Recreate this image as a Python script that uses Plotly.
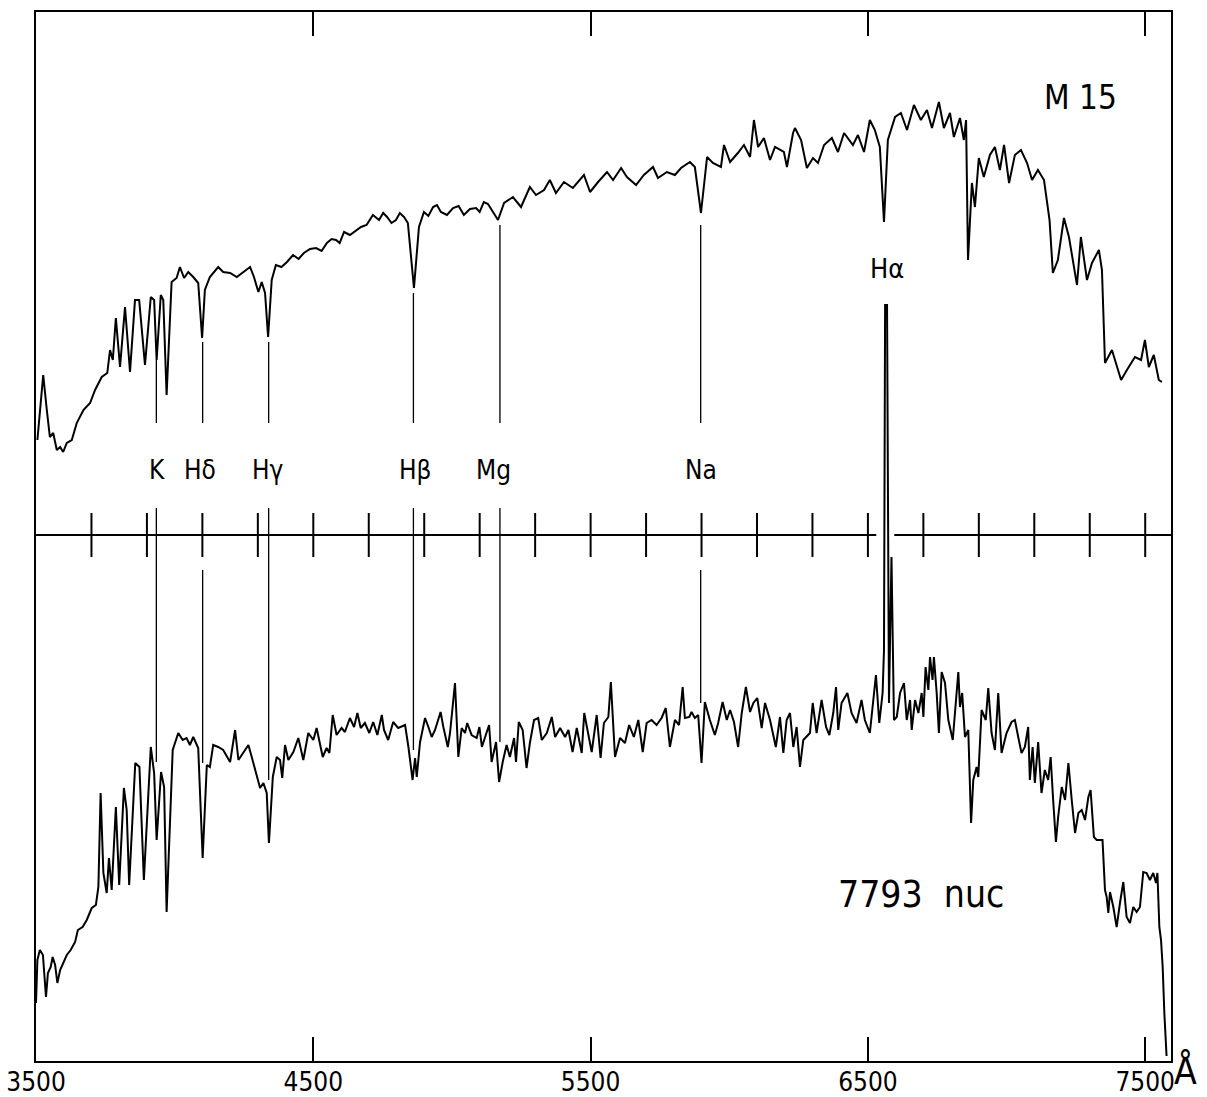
import plotly.graph_objects as go

# ---------------- data (wavelength in Angstrom, relative flux in arbitrary units) -------------
m15 = [(3505,621),(3515,650),(3526,686),(3539,651),(3550,624),(3562,628),(3575,611),(3587,614),
       (3598,609),(3611,618),(3629,621),(3647,638),(3671,651),(3695,658),(3713,671),(3737,684),
       (3757,688),(3767,711),(3777,701),(3788,743),(3803,694),(3821,754),(3839,689),(3857,761),
       (3872,761),(3893,696),(3914,764),(3926,761),(3935,701),(3950,766),(3959,761),(3971,666),
       (3989,779),(4007,783),(4019,794),(4034,783),(4049,789),(4067,784),(4085,778),(4099,723),
       (4109,771),(4127,784),(4157,794),(4175,789),(4200,788),(4224,784),(4248,789),(4272,794),
       (4286,784),(4302,769),(4314,779),(4326,768),(4337,724),(4350,781),(4365,796),(4385,794),
       (4405,799),(4427,806),(4447,802),(4466,808),(4488,812),(4510,813),(4530,810),(4549,818),
       (4566,822),(4582,821),(4595,818),(4611,829),(4632,826),(4650,830),(4672,834),(4692,836),
       (4715,846),(4737,841),(4752,848),(4766,844),(4782,838),(4798,841),(4812,848),(4827,844),
       (4841,838),(4863,773),(4881,834),(4899,849),(4915,845),(4932,854),(4946,856),(4960,849),
       (4982,846),(5004,853),(5024,855),(5043,846),(5065,852),(5087,853),(5100,849),(5115,859),
       (5130,857),(5148,849),(5166,841),(5188,858),(5220,864),(5249,854),(5281,874),(5303,866),
       (5332,871),(5353,881),(5375,868),(5404,879),(5436,873),(5476,886),(5498,869),(5527,879),
       (5559,889),(5581,881),(5610,893),(5631,884),(5664,876),(5692,886),(5725,894),(5743,883),
       (5775,889),(5804,886),(5826,893),(5858,899),(5876,894),(5898,848),(5920,904),(5941,898),
       (5970,894),(5981,916),(6003,899),(6031,908),(6053,916),(6075,904),(6089,941),(6104,914),
       (6125,923),(6147,901),(6165,914),(6197,909),(6208,894),(6230,928),(6237,933),(6259,921),
       (6280,893),(6302,903),(6320,898),(6342,916),(6370,923),(6392,909),(6414,928),(6446,916),
       (6464,926),(6486,909),(6507,941),(6525,931),(6543,914),(6558,839),(6572,921),(6598,944),
       (6619,948),(6641,931),(6666,956),(6691,941),(6713,951),(6731,933),(6756,959),(6774,933),
       (6796,948),(6810,924),(6832,943),(6846,921),(6854,941),(6861,801),(6875,878),(6886,854),
       (6900,903),(6918,884),(6940,906),(6958,914),(6976,891),(6991,916),(7009,878),(7030,906),
       (7052,911),(7074,898),(7092,881),(7113,891),(7135,881),(7155,841),(7167,788),(7185,801),
       (7207,843),(7225,824),(7254,776),(7268,824),(7290,781),(7308,798),(7333,811),(7344,791),
       (7355,698),(7380,711),(7413,681),(7434,691),(7463,704),(7485,701),(7499,721),(7513,694),
       (7531,706),(7549,681),(7560,679)]

nuc = [(3500,58),(3505,101),(3514,111),(3525,106),(3536,64),(3543,88),(3553,94),(3560,104),
       (3569,96),(3577,78),(3587,91),(3597,98),(3611,106),(3625,111),(3641,119),(3651,131),
       (3668,134),(3683,141),(3701,153),(3716,156),(3725,174),(3733,268),(3743,188),(3755,168),
       (3763,203),(3773,171),(3788,254),(3800,176),(3817,273),(3827,251),(3836,176),(3858,298),
       (3873,294),(3889,181),(3914,314),(3926,288),(3935,221),(3951,289),(3962,274),(3971,149),
       (3993,311),(4013,328),(4029,321),(4043,323),(4055,316),(4067,324),(4085,313),(4101,203),
       (4116,296),(4127,294),(4139,316),(4157,314),(4175,311),(4200,299),(4218,331),(4230,301),
       (4248,308),(4266,316),(4278,304),(4293,289),(4308,273),(4320,278),(4332,268),(4340,218),
       (4354,284),(4368,304),(4380,301),(4388,283),(4398,316),(4410,301),(4428,309),(4446,323),
       (4464,301),(4482,328),(4500,321),(4512,333),(4534,304),(4548,313),(4558,308),(4570,346),
       (4584,326),(4602,333),(4614,329),(4632,343),(4647,334),(4659,348),(4671,333),(4686,338),
       (4702,328),(4716,339),(4731,326),(4747,346),(4755,331),(4770,321),(4788,339),(4806,333),
       (4831,336),(4843,314),(4858,281),(4867,303),(4873,284),(4885,319),(4903,343),(4915,334),
       (4927,324),(4939,331),(4959,349),(4969,334),(4985,314),(4993,328),(5011,378),(5023,304),
       (5035,333),(5047,328),(5055,338),(5071,326),(5089,323),(5099,334),(5108,314),(5122,326),
       (5134,336),(5143,299),(5159,319),(5170,279),(5183,299),(5197,316),(5209,304),(5224,323),
       (5231,299),(5241,339),(5255,331),(5269,293),(5281,318),(5296,341),(5311,343),(5324,321),
       (5342,328),(5360,344),(5372,324),(5390,333),(5408,324),(5420,331),(5435,309),(5450,333),
       (5468,308),(5477,348),(5492,324),(5504,309),(5522,346),(5536,303),(5548,338),(5564,344),
       (5573,379),(5588,304),(5606,323),(5624,318),(5639,336),(5656,324),(5672,341),(5688,309),
       (5702,338),(5720,341),(5738,336),(5756,343),(5771,353),(5786,314),(5804,341),(5819,336),
       (5832,374),(5840,343),(5856,344),(5864,349),(5876,343),(5888,346),(5900,298),(5912,359),
       (5930,341),(5948,326),(5960,338),(5976,359),(5991,341),(6003,351),(6017,339),(6032,314),
       (6045,348),(6060,374),(6075,349),(6087,358),(6101,363),(6117,333),(6129,358),(6147,341),
       (6168,314),(6183,344),(6195,308),(6207,341),(6219,348),(6231,314),(6243,334),(6255,294),
       (6267,321),(6279,324),(6291,328),(6301,358),(6315,328),(6333,361),(6349,334),(6361,326),
       (6375,348),(6385,374),(6393,331),(6405,358),(6426,368),(6441,348),(6459,338),(6477,361),
       (6489,341),(6507,328),(6529,386),(6541,338),(6553,368),(6558,411),(6562,756),(6569,756),
       (6576,358),(6585,504),(6594,341),(6604,344),(6616,368),(6630,378),(6640,341),(6652,361),
       (6658,331),(6670,361),(6682,348),(6694,368),(6700,344),(6708,394),(6718,371),(6724,404),
       (6733,381),(6738,404),(6748,368),(6756,328),(6766,389),(6778,378),(6790,341),(6806,321),
       (6816,354),(6826,389),(6832,354),(6840,368),(6850,324),(6862,331),(6872,238),(6880,281),
       (6892,294),(6898,284),(6910,351),(6925,341),(6934,373),(6946,328),(6958,311),(6970,368),
       (6982,308),(7000,328),(7018,339),(7030,341),(7042,324),(7054,308),(7066,314),(7078,334),
       (7084,281),(7094,314),(7102,278),(7114,319),(7126,268),(7138,291),(7150,281),(7159,304),
       (7168,261),(7178,219),(7186,244),(7199,274),(7211,261),(7223,298),(7235,261),(7247,228),
       (7259,248),(7271,251),(7283,241),(7295,264),(7303,271),(7309,241),(7315,224),(7325,221),
       (7337,221),(7346,221),(7355,171),(7361,164),(7367,148),(7373,169),(7385,154),(7397,134),
       (7409,158),(7421,179),(7433,144),(7445,138),(7457,154),(7469,149),(7481,154),(7493,189),
       (7505,188),(7517,181),(7529,188),(7539,178),(7544,188),(7551,134),(7557,121),(7563,94),
       (7569,48),(7577,5)]

line_names = ["K", "Hδ", "Hγ", "Hβ", "Mg", "Na"]
line_wl = [3934, 4101, 4339, 4861, 5173, 5897]
upper_seg_top = [701, 719, 719, 768, 836, 836]
upper_seg_bot = [638, 638, 638, 638, 638, 638]
lower_seg_top = [553, 491, 553, 553, 553, 491]
lower_seg_bot = [299, 298, 281, 311, 319, 358]
label_wl = [3937, 4090, 4336, 4867, 5151, 5898]
label_flux = 591

halpha_label = ("Hα", 6569, 793)
m15_label = ("M 15", 7268, 964)
nuc_label = ("7793  nuc", 6691, 167)

mid_axis_flux = 526
mid_tick_half = 22
mid_tick_wl = list(range(3700, 7501, 200))
mid_gap = (6530, 6595)
x_ticks = [3500, 4500, 5500, 6500, 7500]
x_range = [3500, 7593]
y_range = [0, 1049]

# ---------------- figure -------------------------------------------------------------------------
FONT = "DejaVu Sans Condensed, Liberation Sans Narrow, sans-serif"
fig = go.Figure()

fig.add_trace(go.Scatter(x=[p[0] for p in m15], y=[p[1] for p in m15], mode="lines",
                         line=dict(color="black", width=2), hoverinfo="skip"))
fig.add_trace(go.Scatter(x=[p[0] for p in nuc], y=[p[1] for p in nuc], mode="lines",
                         line=dict(color="black", width=2), hoverinfo="skip"))

# identification line markers
mx, my = [], []
for wl, a, b, c, d in zip(line_wl, upper_seg_top, upper_seg_bot, lower_seg_top, lower_seg_bot):
    mx += [wl, wl, None, wl, wl, None]
    my += [a, b, None, c, d, None]
fig.add_trace(go.Scatter(x=mx, y=my, mode="lines", line=dict(color="black", width=1.3),
                         hoverinfo="skip"))

# middle wavelength axis with ticks
ax_x = [x_range[0], mid_gap[0], None, mid_gap[1], x_range[1]]
ax_y = [mid_axis_flux, mid_axis_flux, None, mid_axis_flux, mid_axis_flux]
fig.add_trace(go.Scatter(x=ax_x, y=ax_y, mode="lines", line=dict(color="black", width=2),
                         hoverinfo="skip"))
tx, ty = [], []
for wl in mid_tick_wl:
    tx += [wl, wl, None]
    ty += [mid_axis_flux - mid_tick_half, mid_axis_flux + mid_tick_half, None]
fig.add_trace(go.Scatter(x=tx, y=ty, mode="lines", line=dict(color="black", width=2),
                         hoverinfo="skip"))

annotations = []
for name, wl in zip(line_names, label_wl):
    annotations.append(dict(x=wl, y=label_flux, text=name, showarrow=False,
                            font=dict(family=FONT, size=26, color="black")))
for txt, wl, fl, size in [(halpha_label[0], halpha_label[1], halpha_label[2], 27),
                          (m15_label[0], m15_label[1], m15_label[2], 33),
                          (nuc_label[0], nuc_label[1], nuc_label[2], 37)]:
    annotations.append(dict(x=wl, y=fl, text=txt, showarrow=False,
                            font=dict(family=FONT, size=size, color="black")))
annotations.append(dict(x=1, xref="paper", y=0, yref="paper", text="Å", showarrow=False,
                        xanchor="left", yanchor="middle", xshift=2, yshift=-10, borderpad=0,
                        font=dict(family=FONT, size=37, color="black")))

fig.update_layout(
    width=1207, height=1097,
    margin=dict(l=36, r=36, t=12, b=36, autoexpand=False),
    paper_bgcolor="white", plot_bgcolor="white",
    showlegend=False,
    annotations=annotations,
    xaxis=dict(range=x_range, tickvals=x_ticks, ticktext=[str(v) for v in x_ticks],
               ticks="inside", ticklen=24, tickwidth=2, tickcolor="black",
               showline=True, linecolor="black", linewidth=2, mirror="ticks",
               showgrid=False, zeroline=False, automargin=False,
               ticklabeloverflow="allow", ticklabelstandoff=-3,
               tickfont=dict(family=FONT, size=26, color="black")),
    yaxis=dict(range=y_range, showline=True, linecolor="black", linewidth=2, mirror=True,
               ticks="", showticklabels=False, showgrid=False, zeroline=False,
               automargin=False),
)

# remove the browser's default 8 px body margin so the figure fills the window exactly
fig.write_html("out.html", config={"displayModeBar": False},
               post_script="document.body.style.margin='0px';")
